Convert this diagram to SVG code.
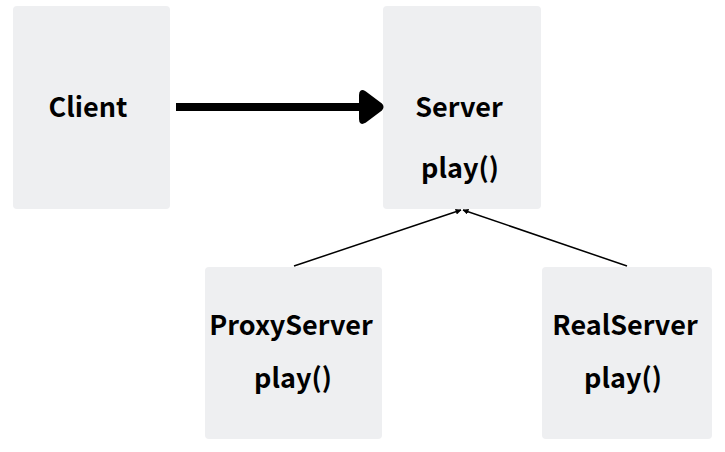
<svg xmlns="http://www.w3.org/2000/svg" width="725" height="452" viewBox="0 0 725 452">
<defs>
<style>
.box{fill:#eeeff1;}
.t{font-family:"Noto Sans CJK KR","Noto Sans",sans-serif;font-weight:bold;font-size:27px;fill:#000;text-anchor:middle;}
.thin{stroke:#000;stroke-width:1.5;fill:none;}
</style>
<marker id="sm" viewBox="0 0 10 10" refX="9" refY="5" markerWidth="6" markerHeight="6" orient="auto" markerUnits="userSpaceOnUse">
<path d="M0,0 L10,5 L0,10 z" fill="#000"/>
</marker>
</defs>
<rect width="725" height="452" fill="#fff"/>
<g id="client"><rect class="box" x="13" y="6" width="157" height="203" rx="4"/><text class="t" x="88" y="117">Client</text></g>
<g id="server"><rect class="box" x="383" y="6" width="158" height="203" rx="4"/><text class="t" x="459" y="117">Server</text><text class="t" x="460" y="178">play()</text></g>
<g id="proxy"><rect class="box" x="205" y="267" width="177" height="172" rx="4"/><text class="t" x="291" y="335">ProxyServer</text><text class="t" x="293" y="388">play()</text></g>
<g id="real"><rect class="box" x="542" y="267" width="170" height="172" rx="4"/><text class="t" x="625" y="335">RealServer</text><text class="t" x="623" y="388">play()</text></g>
<g id="connectors">
<line x1="176" y1="107" x2="362" y2="107" stroke="#000" stroke-width="8"/>
<path d="M360,95 Q360,89 365,92 L381,104 Q384,107 381,110 L365,122 Q360,125 360,119 Z" fill="#000" stroke="#000" stroke-width="2" stroke-linejoin="round"/>
<line class="thin" x1="294" y1="266" x2="461" y2="210" marker-end="url(#sm)"/>
<line class="thin" x1="627" y1="266" x2="463" y2="210" marker-end="url(#sm)"/>
</g>
</svg>
